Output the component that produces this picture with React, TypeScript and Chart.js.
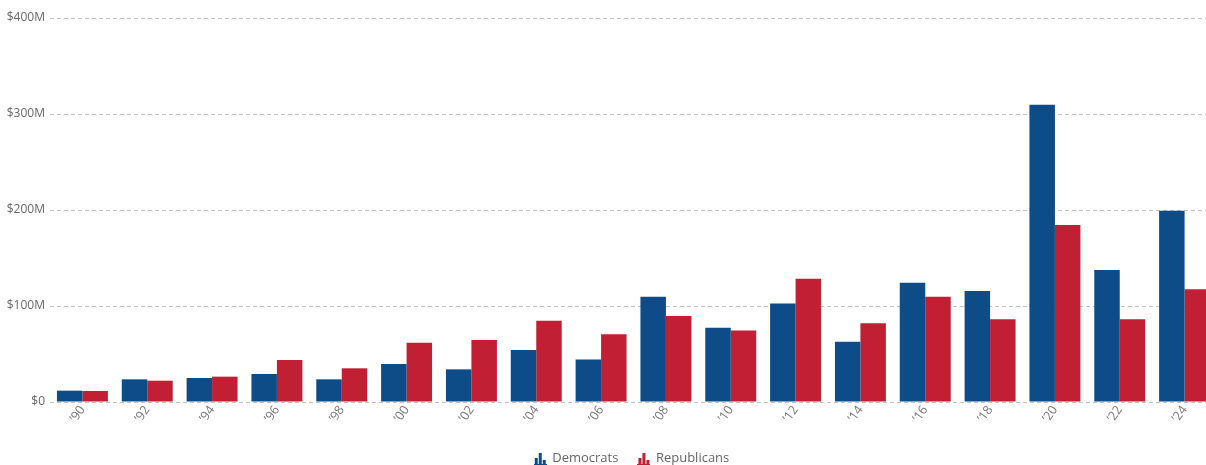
import React, { useEffect, useRef } from "react";
import { Chart, registerables } from "chart.js";

Chart.register(...registerables);

const categories = ["’90", "’92", "’94", "’96", "’98", "’00", "’02", "’04", "’06", "’08", "’10", "’12", "’14", "’16", "’18", "’20", "’22", "’24"];
const democrats = [11.8, 23.6, 25, 29.2, 23.6, 39.6, 34, 54.2, 44.4, 109.7, 77.4, 102.7, 62.8, 124.3, 115.6, 309.7, 137.5, 199.3];
const republicans = [11.5, 22.2, 26.4, 43.8, 35.1, 61.8, 64.6, 84.7, 70.5, 89.6, 74.6, 128.5, 82, 109.7, 86.1, 184.4, 86.1, 117.4];
const yTicks = [0, 100, 200, 300, 400];

const BLUE = "#0d4c87";
const RED = "#c11f33";
const FONT = "'Open Sans', sans-serif";

function makeIcon(color: string): HTMLCanvasElement {
  const c = document.createElement("canvas");
  c.width = 13;
  c.height = 13;
  const ctx = c.getContext("2d")!;
  ctx.fillStyle = color;
  ctx.fillRect(1, 6, 3, 6);
  ctx.fillRect(5, 1, 3, 11);
  ctx.fillRect(9, 8, 3, 4);
  ctx.fillRect(0, 12, 13, 1);
  return c;
}

export default function App() {
  const ref = useRef<HTMLCanvasElement | null>(null);

  useEffect(() => {
    if (!ref.current) return;
    const icons = [makeIcon(BLUE), makeIcon(RED)];
    const chart = new Chart(ref.current, {
      type: "bar",
      data: {
        labels: categories,
        datasets: [
          { label: "Democrats", data: democrats, backgroundColor: BLUE, pointStyle: icons[0] as any, yAxisID: "y" },
          { label: "Republicans", data: republicans, backgroundColor: RED, pointStyle: icons[1] as any, yAxisID: "y" },
        ],
      },
      options: {
        responsive: false,
        animation: false,
        devicePixelRatio: 1,
        layout: { padding: { top: 18, right: 0, left: 0, bottom: 0 } },
        datasets: { bar: { barPercentage: 1, categoryPercentage: 0.786 } },
        plugins: {
          tooltip: { enabled: false },
          legend: {
            position: "bottom",
            labels: {
              usePointStyle: true,
              boxWidth: 11,
              boxHeight: 13,
              padding: 20,
              color: "#666",
              font: { family: FONT, size: 13 },
            },
          },
        },
        scales: {
          x: {
            grid: { display: false },
            border: { display: false },
            afterFit: (scale: any) => {
              scale.height = 30;
            },
            ticks: {
              minRotation: 55,
              maxRotation: 55,
              padding: -7,
              color: "#777",
              font: { family: FONT, size: 12.5 },
            },
          },
          y: {
            min: 0,
            max: 400,
            afterFit: (scale: any) => {
              scale.width = 50;
            },
            afterBuildTicks: (scale: any) => {
              scale.ticks = yTicks.map((v) => ({ value: v }));
            },
            border: { display: false, dash: [4, 3] },
            grid: { color: "#c4c4c4", drawTicks: false, lineWidth: 1 },
            ticks: {
              padding: 5,
              color: "#666",
              font: { family: FONT, size: 12 },
              callback: (v: any) => (v === 0 ? "$0" : "$" + v + "M"),
            },
          },
          yRight: {
            position: "right",
            display: true,
            min: 0,
            max: 400,
            afterFit: (scale: any) => {
              scale.width = 47;
            },
            grid: { display: false, drawOnChartArea: false },
            border: { display: false },
            ticks: { display: false },
          },
        },
      },
    } as any);
    return () => chart.destroy();
  }, []);

  return (
    <div style={{ position: "fixed", left: 0, top: 0, width: 1206, height: 465, overflow: "hidden", background: "#fff" }}>
      <div style={{ width: 1264, height: 475 }}>
        <canvas ref={ref} width={1264} height={475} style={{ display: "block" }} />
      </div>
    </div>
  );
}
